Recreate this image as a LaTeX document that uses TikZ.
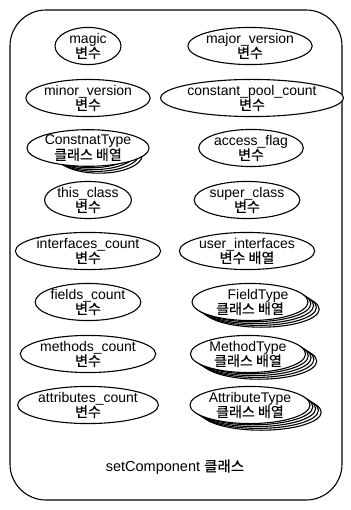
\documentclass[tikz,border=0pt]{standalone}
\usepackage{fontspec}
\setmainfont{Liberation Sans}
\newfontfamily\kr[FakeBold=0.5]{Noto Sans CJK KR}
\usetikzlibrary{shapes.geometric}
\tikzset{
  var/.style={ellipse, draw, line width=1.1pt, fill=white, inner sep=0pt, minimum height=36pt,
    align=center, font=\fontsize{14}{15}\selectfont},
  frame/.style={draw, line width=1.1pt, rounded corners=36pt},
}
\newcommand{\stackell}[3]{% x, y, width
  \foreach \i in {4,3,2,1}{
    \node[var, minimum width=#3pt] at ([xshift=2.8*\i pt, yshift=-1.8*\i pt]#1,#2) {};
  }
}
\begin{document}
\begin{tikzpicture}[x=1pt,y=-1pt]
\useasboundingbox (0,0) rectangle (350,510);
\draw[frame] (10,10) rectangle (342,500);
% left column
\node[var, minimum width=66pt] (magic) at (88,46) {magic\\{\kr 변수}};
\node[var, minimum width=86pt] (minor) at (88,98) {minor\_version\\{\kr 변수}};
\stackell{88}{148}{86}
\node[var, minimum width=86pt] (ct) at (88,148) {ConstnatType\\{\kr 클래스 배열}};
\node[var, minimum width=76pt] (this) at (88,200) {this\_class\\{\kr 변수}};
\node[var, minimum width=96pt] (ifc) at (88,251) {interfaces\_count\\{\kr 변수}};
\node[var, minimum width=90pt] (fc) at (88,302) {fields\_count\\{\kr 변수}};
\node[var, minimum width=91pt] (mc) at (88,354) {methods\_count\\{\kr 변수}};
\node[var, minimum width=95pt] (ac) at (88,405) {attributes\_count\\{\kr 변수}};
% right column
\node[var, minimum width=88pt] (major) at (250,46) {major\_version\\{\kr 변수}};
\node[var, minimum width=127pt] (cpc) at (252,98) {constant\_pool\_count\\{\kr 변수}};
\node[var, minimum width=82pt] (af) at (251,148) {access\_flag\\{\kr 변수}};
\node[var, minimum width=92pt] (sc) at (247,200) {super\_class\\{\kr 변수}};
\node[var, minimum width=114pt] (ui) at (247,251) {user\_interfaces\\{\kr 변수 배열}};
\stackell{250}{302}{116}
\node[var, minimum width=116pt] (ft) at (250,302) {\hspace*{16pt}FieldType\\{\kr 클래스 배열}};
\stackell{248}{354}{115}
\node[var, minimum width=115pt] (mt) at (248,354) {MethodType\\{\kr 클래스 배열}};
\stackell{250}{405}{120}
\node[var, minimum width=120pt] (at) at (250,405) {AttributeType\\{\kr 클래스 배열}};
\node[font=\fontsize{14.5}{15}\selectfont] (lbl) at (175,467) {setComponent {\kr 클래스}};
\end{tikzpicture}
\end{document}
